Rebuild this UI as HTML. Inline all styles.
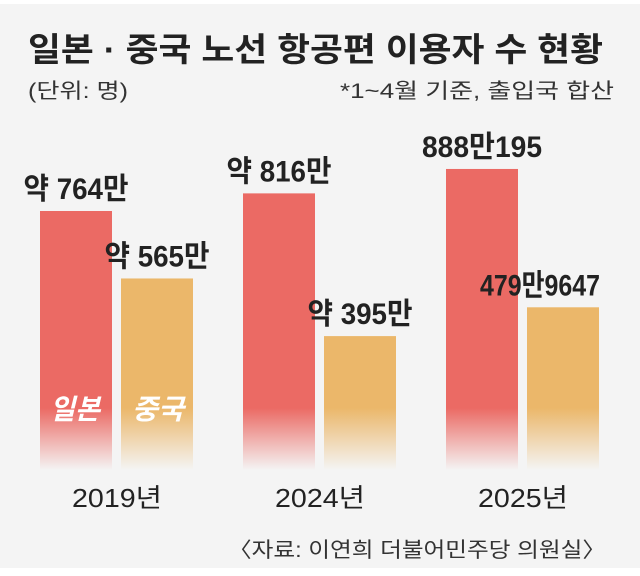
<!DOCTYPE html>
<html><head><meta charset="utf-8"><style>
body{margin:0;width:640px;height:576px;background:#fff;overflow:hidden}
svg{display:block}
text{font-family:"Liberation Sans","Noto Sans CJK KR",sans-serif}
</style></head><body>
<svg width="640" height="576">
<defs></defs>
<rect x="0" y="4" width="640" height="564" fill="#f4f4f4"/>
<text x="28" y="61" font-size="33" font-weight="bold" fill="#222" textLength="575" lengthAdjust="spacingAndGlyphs">일본 · 중국 노선 항공편 이용자 수 현황</text>
<text x="28" y="98" font-size="21" fill="#333" textLength="100" lengthAdjust="spacingAndGlyphs">(단위: 명)</text>
<text x="340" y="98" font-size="21" fill="#333" textLength="274" lengthAdjust="spacingAndGlyphs">*1~4월 기준, 출입국 합산</text>
<g id="bars"></g>
<text x="228" y="557" font-size="21" fill="#333" textLength="378" lengthAdjust="spacingAndGlyphs">〈자료: 이연희 더불어민주당 의원실〉</text>
</svg>
<script>
const years = ["2019년","2024년","2025년"];
const japan = [764, 816, 888.0195];
const china = [565, 395, 479.9647];
const japanLabels = ["약 764만","약 816만","888만195"];
const chinaLabels = ["약 565만","약 395만","479만9647"];
const NS="http://www.w3.org/2000/svg";
const g=document.getElementById('bars');
const defs=document.querySelector('defs');
const base=470, k=0.339, groupX=[40,243,446], bw=72;
function y(v){return base-v*k;}
function mk(t,a){const e=document.createElementNS(NS,t);for(const n in a)e.setAttribute(n,a[n]);return e;}
years.forEach((yr,i)=>{
  [[japan,japanLabels,'#eb6a64',0,'japan'],[china,chinaLabels,'#ebb76a',81,'china']].forEach(([arr,lab,col,off,nm])=>{
    const top=y(arr[i]), x=groupX[i]+off;
    const gid='g'+nm+i;
    const lg=mk('linearGradient',{id:gid,x1:0,y1:top,x2:0,y2:base,gradientUnits:'userSpaceOnUse'});
    const f=Math.max(0,(408-top)/(base-top));
    lg.appendChild(mk('stop',{offset:0,'stop-color':col}));
    lg.appendChild(mk('stop',{offset:f,'stop-color':col}));
    lg.appendChild(mk('stop',{offset:1,'stop-color':col,'stop-opacity':0}));
    defs.appendChild(lg);
    const r=mk('rect',{x:x,y:top,width:bw,height:base-top,fill:'url(#'+gid+')'});
    
    
    g.appendChild(r);
    const len=Math.min(lab[i].length*17.5,120);
    let lx=x+bw/2-len/2;
    if(lx+len>600) lx=600-len;
    const t=mk('text',{x:lx,y:top-12,'font-size':30,'font-weight':'bold',fill:'#222',textLength:len,lengthAdjust:'spacingAndGlyphs'});
    t.textContent=lab[i];
    
    
    g.appendChild(t);
  });
  const yl=mk('text',{x:groupX[i]+77-45,y:507,'font-size':26,fill:'#222',textLength:90,lengthAdjust:'spacingAndGlyphs'});
  yl.textContent=yr;
  
  
  g.appendChild(yl);
});
const l1=mk('text',{x:50,y:419,'font-size':28,'font-weight':'bold','font-style':'italic',fill:'#fff',textLength:50,lengthAdjust:'spacingAndGlyphs'});
l1.textContent='일본';


g.appendChild(l1);
const l2=mk('text',{x:132,y:419,'font-size':28,'font-weight':'bold','font-style':'italic',fill:'#fff',textLength:52,lengthAdjust:'spacingAndGlyphs'});
l2.textContent='중국';


g.appendChild(l2);
</script>
</body></html>
